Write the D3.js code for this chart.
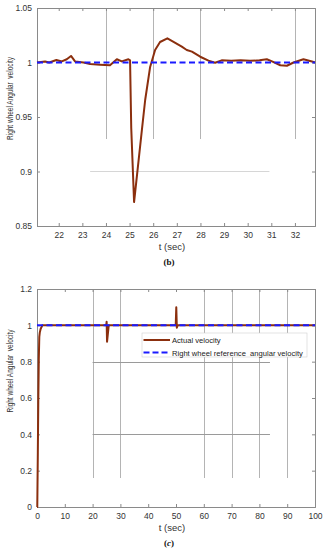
<!DOCTYPE html>
<html>
<head>
<meta charset="utf-8">
<title>Right wheel angular velocity</title>
<script src="https://cdnjs.cloudflare.com/ajax/libs/d3/7.8.5/d3.min.js"></script>
<style>
  body { margin: 0; background: #fff; }
  text { font-family: "Liberation Sans", Arial, sans-serif; white-space: pre; }
</style>
</head>
<body>
<svg id="chart" width="325" height="550"></svg>
<script>
// ---- panel (b): zoom around t = 25 s ----
var tB      = [21.08, 21.42, 21.6, 21.9, 22.13, 22.34, 22.52, 22.69, 23.05, 23.33, 23.75, 24.17, 24.46, 24.67, 24.95, 25.02, 25.07, 25.19, 25.52, 25.66, 25.87, 26.08, 26.29, 26.6, 26.86, 27.21, 27.42, 27.64, 27.99, 28.34, 28.62, 28.9, 29.3, 29.7, 30.1, 30.5, 30.81, 31.03, 31.38, 31.66, 31.94, 32.36, 32.72, 32.85];
var actualB = [1.0, 1.001, 1.0, 1.0023, 1.001, 1.003, 1.006, 1.001, 1.0, 0.9986, 0.998, 0.9975, 1.003, 1.001, 1.003, 1.002, 0.94, 0.872, 0.938, 0.9656, 0.9959, 1.0115, 1.0188, 1.0222, 1.019, 1.0145, 1.0115, 1.010, 1.0053, 1.0017, 0.9998, 1.002, 1.0015, 1.002, 1.0015, 1.002, 1.003, 1.001, 0.9975, 0.997, 1.0, 1.003, 1.001, 1.0];
var refTB   = [21.08, 32.85];
var refB    = [1, 1];
var xTicksB = [22, 23, 24, 25, 26, 27, 28, 29, 30, 31, 32];
var yTicksB = [0.85, 0.9, 0.95, 1, 1.05];
var yLabelsB = ["0.85", "0.9", "0.95", "1", "1.05"];
// faint stray lines seen in the figure
var strayVB = [24, 26, 28, 32];
var strayHB = [0.9];

// ---- panel (c): full run 0..100 s ----
var tC      = [0, 0.1, 0.3, 0.47, 0.65, 0.83, 1.0, 1.3, 1.9, 24.9, 25.05, 25.2, 25.8, 49.9, 50.1, 50.3, 50.6, 100];
var actualC = [0, 0.0, 0.3, 0.59, 0.82, 0.937, 0.96, 0.98, 1.0, 1.0, 1.02, 0.91, 1.0, 1.0, 1.099, 0.987, 1.0, 1.0];
var refTC   = [0, 100];
var refC    = [1, 1];
var xTicksC = [0, 10, 20, 30, 40, 50, 60, 70, 80, 90, 100];
var yTicksC = [0, 0.2, 0.4, 0.6, 0.8, 1, 1.2];
var yLabelsC = ["0", "0.2", "0.4", "0.6", "0.8", "1", "1.2"];
var strayVC = [20, 30, 60, 70, 80, 90];
var strayHC = [0.8, 0.4];

var legendNames = ["Actual velocity", "Right wheel reference  angular velocity"];

var svg = d3.select('#chart');
var actualColor = '#8b2f0e';
var refColor = '#1a1aff';
var axisColor = '#8a8a8a';
var labelColor = '#333';

function panel(o) {
    var x = d3.scaleLinear().domain(o.xDomain).range([37, 315]);
    var y = d3.scaleLinear().domain(o.yDomain).range([o.bottom, o.top]);
    var g = svg.append('g');

    // stray partial lines
    g.selectAll('.sv').data(o.strayV).enter().append('line')
        .attr('x1', function(d){ return Math.round(x(d)) + 0.5; })
        .attr('x2', function(d){ return Math.round(x(d)) + 0.5; })
        .attr('y1', o.top).attr('y2', o.strayVEnd)
        .attr('stroke', '#b4b4b4').attr('stroke-width', 1);
    g.selectAll('.sh').data(o.strayH).enter().append('line')
        .attr('x1', x(o.strayHFrom)).attr('x2', x(o.strayHTo))
        .attr('y1', function(d){ return Math.round(y(d)) + 0.5; })
        .attr('y2', function(d){ return Math.round(y(d)) + 0.5; })
        .attr('stroke', o.strayHColor).attr('stroke-width', 1);

    // axes, MATLAB style box with inner ticks
    var bottomAxis = d3.axisBottom(x).tickValues(o.xTicks).tickSize(-3).tickPadding(6).tickFormat(d3.format('d'));
    var topAxis = d3.axisTop(x).tickValues(o.xTicks).tickSize(-3).tickFormat('');
    var leftAxis = d3.axisLeft(y).tickValues(o.yTicks).tickSize(-3).tickPadding(5)
        .tickFormat(function(d, i){ return o.yLabels[i]; });
    var rightAxis = d3.axisRight(y).tickValues(o.yTicks).tickSize(-3).tickFormat('');

    var axes = [
        g.append('g').attr('transform', 'translate(0,' + o.bottom + ')').call(bottomAxis),
        g.append('g').attr('transform', 'translate(0,' + o.top + ')').call(topAxis),
        g.append('g').attr('transform', 'translate(37,0)').call(leftAxis),
        g.append('g').attr('transform', 'translate(315,0)').call(rightAxis)
    ];
    axes.forEach(function(a){
        a.select('.domain').attr('stroke', axisColor);
        a.selectAll('.tick line').attr('stroke', axisColor);
        a.selectAll('.tick text').attr('fill', labelColor)
            .style('font-family', '"Liberation Sans", Arial, sans-serif').style('font-size', '8.5px');
    });

    var line = d3.line().x(function(d){ return x(d[0]); }).y(function(d){ return y(d[1]); });

    g.append('path').datum(d3.zip(o.t, o.actual))
        .attr('d', line).attr('fill', 'none')
        .attr('stroke', actualColor).attr('stroke-width', 2).attr('stroke-linejoin', 'round');
    g.append('path').datum(d3.zip(o.refT, o.ref))
        .attr('d', line).attr('fill', 'none')
        .attr('stroke', refColor).attr('stroke-width', 2).attr('stroke-dasharray', '6,3.5');

    // labels
    g.append('text').attr('x', 172).attr('y', o.bottom + 24)
        .attr('text-anchor', 'middle').attr('fill', labelColor).style('font-size', '9.5px').text('t (sec)');
    g.append('text')
        .attr('transform', 'translate(13,' + o.yLabelMid + ') rotate(-90)')
        .attr('text-anchor', 'middle').attr('fill', labelColor).style('font-size', '9.5px')
        .attr('textLength', 83).attr('lengthAdjust', 'spacingAndGlyphs')
        .text('Right wheel Angular  velocity');
    var cap = g.append('text').attr('x', 169).attr('y', o.bottom + 39)
        .attr('text-anchor', 'middle').attr('fill', '#111')
        .style('font-family', '"Liberation Serif", "Times New Roman", serif').style('font-size', '9px').style('font-weight', 'bold');
    cap.append('tspan').text('(');
    cap.append('tspan').style('font-style', o.capItalic ? 'italic' : 'normal').text(o.caption);
    cap.append('tspan').text(')');
    return g;
}

panel({
    xDomain: [21.08, 32.85], yDomain: [0.85, 1.05], top: 8, bottom: 226, yLabelMid: 98.5,
    t: tB, actual: actualB, refT: refTB, ref: refB,
    xTicks: xTicksB, yTicks: yTicksB, yLabels: yLabelsB,
    strayV: strayVB, strayVEnd: 139, strayH: strayHB, strayHFrom: 23.33, strayHTo: 30.92, strayHColor: '#d6d6d6',
    caption: 'b', capItalic: false
});

var gC = panel({
    xDomain: [0, 100], yDomain: [0, 1.2], top: 289, bottom: 507, yLabelMid: 371,
    t: tC, actual: actualC, refT: refTC, ref: refC,
    xTicks: xTicksC, yTicks: yTicksC, yLabels: yLabelsC,
    strayV: strayVC, strayVEnd: 478, strayH: strayHC, strayHFrom: 20, strayHTo: 83.8, strayHColor: '#9a9a9a',
    caption: 'c', capItalic: true
});

// legend for panel (c)
var lg = gC.append('g').attr('transform', 'translate(142,333)');
lg.append('rect').attr('width', 165).attr('height', 24)
    .attr('fill', '#fff').attr('stroke', '#d0d0d0').attr('stroke-width', 0.6);
var items = lg.selectAll('.item').data(legendNames).enter().append('g')
    .attr('transform', function(d, i){ return 'translate(0,' + (7 + i * 12.5) + ')'; });
items.append('line').attr('x1', 1.5).attr('x2', 28).attr('y1', 0).attr('y2', 0)
    .attr('stroke', function(d, i){ return i === 0 ? actualColor : refColor; })
    .attr('stroke-width', 2)
    .attr('stroke-dasharray', function(d, i){ return i === 0 ? null : '6,3'; });
items.append('text').attr('x', 30).attr('y', 3)
    .attr('fill', '#222').style('font-size', '7.6px').text(function(d){ return d; });
</script>
</body>
</html>
